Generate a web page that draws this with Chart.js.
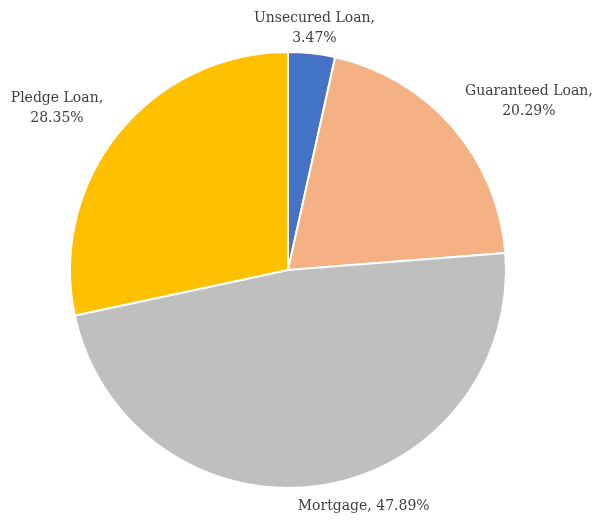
<!DOCTYPE html>
<html>
<head>
<meta charset="utf-8">
<script src="https://cdn.jsdelivr.net/npm/chart.js@4.4.1/dist/chart.umd.min.js"></script>
<style>
  html, body { margin: 0; padding: 0; background: #fff; }
  #wrap { width: 597px; height: 521px; position: relative; }
</style>
</head>
<body>
<div id="wrap"><canvas id="loanPie"></canvas></div>
<script>
const categories = ['Unsecured Loan', 'Guaranteed Loan', 'Mortgage', 'Pledge Loan'];
const shares = [3.47, 20.29, 47.89, 28.35];
const sliceColors = ['#4472C4', '#F4B183', '#BFBFBF', '#FFC000'];

// label placement around the pie: [extra angle (deg), distance beyond rim (px), lines]
const labelLayout = [
    [0, 25, 2],
    [6, 76, 2],
    [-9.5, 30, 1],
    [-4, 64, 2]
];

const outsideLabels = {
    id: 'outsideLabels',
    afterDatasetsDraw(chart) {
        const ctx = chart.ctx;
        const arcs = chart.getDatasetMeta(0).data;
        ctx.save();
        ctx.font = '14px "DejaVu Serif", serif';
        ctx.fillStyle = '#404040';
        ctx.textAlign = 'center';
        ctx.textBaseline = 'middle';
        arcs.forEach((arc, i) => {
            const p = arc.getProps(['x', 'y', 'startAngle', 'endAngle', 'outerRadius'], true);
            const mid = (p.startAngle + p.endAngle) / 2 + labelLayout[i][0] * Math.PI / 180;
            const r = p.outerRadius + labelLayout[i][1];
            const x = p.x + Math.cos(mid) * r;
            const y = p.y + Math.sin(mid) * r;
            const pct = shares[i].toFixed(2) + '%';
            if (labelLayout[i][2] === 1) {
                ctx.fillText(categories[i] + ', ' + pct, x, y);
            } else {
                ctx.fillText(categories[i] + ',', x, y - 10);
                ctx.fillText(pct, x, y + 10);
            }
        });
        ctx.restore();
    }
};

new Chart(document.getElementById('loanPie'), {
    type: 'pie',
    data: {
        labels: categories,
        datasets: [{
            data: shares,
            backgroundColor: sliceColors,
            borderColor: '#ffffff',
            borderWidth: 2
        }]
    },
    options: {
        responsive: true,
        maintainAspectRatio: false,
        animation: false,
        layout: { padding: { left: 69, right: 90, top: 51, bottom: 32 } },
        plugins: {
            legend: { display: false },
            tooltip: { enabled: false }
        }
    },
    plugins: [outsideLabels]
});
</script>
</body>
</html>
